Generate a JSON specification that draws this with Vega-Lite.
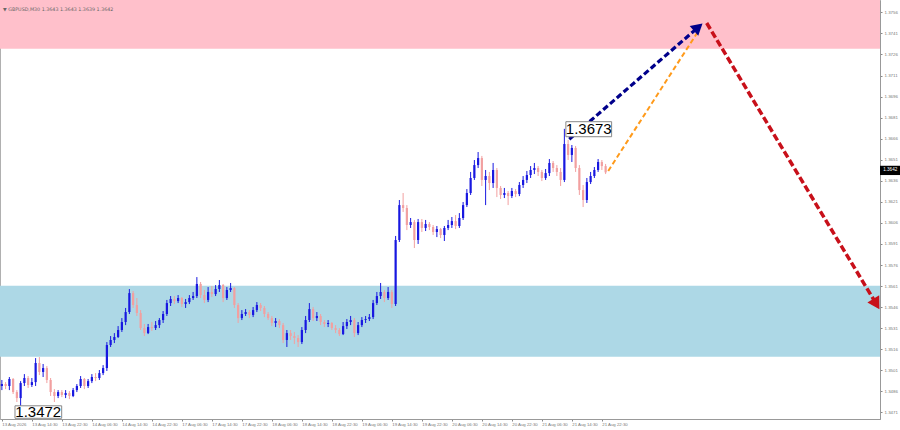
{
  "$schema": "https://vega.github.io/schema/vega-lite/v6.json",
  "description": "GBPUSD M30 wave forecast chart with sell and buy zones",
  "width": 880,
  "height": 419,
  "autosize": {"type": "none"},
  "padding": {"left": 0, "top": 0, "right": 20, "bottom": 11},
  "background": "white",
  "view": {"stroke": "#b0b0b0", "strokeWidth": 1},
  "config": {
    "scale": {"continuousPadding": 0},
    "axis": {"labelOverlap": false, "labelFlush": false, "grid": false, "title": null},
    "axisY": {"labelOverlap": false}
  },
  "datasets": {
    "zones": [
      {"zone": "sell", "x1": -0.5, "x2": 234.17, "p1": 1.3730, "p2": 1.37648},
      {"zone": "buy", "x1": -0.5, "x2": 234.17, "p1": 1.35106, "p2": 1.35612}
    ],
    "candles": [
      {"i":0,"o":1.34898,"h":1.34941,"l":1.34869,"c":1.34912},
      {"i":1,"o":1.34912,"h":1.34926,"l":1.34876,"c":1.34898},
      {"i":2,"o":1.34898,"h":1.34962,"l":1.34869,"c":1.34948},
      {"i":3,"o":1.34948,"h":1.34955,"l":1.34841,"c":1.34855},
      {"i":4,"o":1.34855,"h":1.34869,"l":1.34784,"c":1.34812},
      {"i":5,"o":1.34812,"h":1.34933,"l":1.34721,"c":1.34919},
      {"i":6,"o":1.34919,"h":1.34983,"l":1.34898,"c":1.34955},
      {"i":7,"o":1.34955,"h":1.34969,"l":1.34884,"c":1.34905},
      {"i":8,"o":1.34905,"h":1.34955,"l":1.34891,"c":1.34926},
      {"i":9,"o":1.34926,"h":1.35097,"l":1.34898,"c":1.35062},
      {"i":10,"o":1.35062,"h":1.35104,"l":1.34976,"c":1.34998},
      {"i":11,"o":1.34998,"h":1.35055,"l":1.34962,"c":1.35026},
      {"i":12,"o":1.35026,"h":1.35040,"l":1.34919,"c":1.34941},
      {"i":13,"o":1.34941,"h":1.34955,"l":1.34827,"c":1.34855},
      {"i":14,"o":1.34855,"h":1.34876,"l":1.34784,"c":1.34827},
      {"i":15,"o":1.34827,"h":1.34869,"l":1.34812,"c":1.34855},
      {"i":16,"o":1.34855,"h":1.34869,"l":1.34819,"c":1.34834},
      {"i":17,"o":1.34834,"h":1.34869,"l":1.34812,"c":1.34848},
      {"i":18,"o":1.34848,"h":1.34862,"l":1.34805,"c":1.34827},
      {"i":19,"o":1.34827,"h":1.34884,"l":1.34819,"c":1.34869},
      {"i":20,"o":1.34869,"h":1.34912,"l":1.34855,"c":1.34898},
      {"i":21,"o":1.34898,"h":1.34969,"l":1.34884,"c":1.34948},
      {"i":22,"o":1.34948,"h":1.34955,"l":1.34876,"c":1.34898},
      {"i":23,"o":1.34898,"h":1.34948,"l":1.34884,"c":1.34933},
      {"i":24,"o":1.34933,"h":1.34983,"l":1.34919,"c":1.34962},
      {"i":25,"o":1.34962,"h":1.34990,"l":1.34933,"c":1.34955},
      {"i":26,"o":1.34955,"h":1.35012,"l":1.34941,"c":1.34990},
      {"i":27,"o":1.34990,"h":1.35047,"l":1.34976,"c":1.35026},
      {"i":28,"o":1.35026,"h":1.35211,"l":1.35005,"c":1.35190},
      {"i":29,"o":1.35190,"h":1.35254,"l":1.35176,"c":1.35226},
      {"i":30,"o":1.35226,"h":1.35275,"l":1.35204,"c":1.35247},
      {"i":31,"o":1.35247,"h":1.35325,"l":1.35240,"c":1.35297},
      {"i":32,"o":1.35297,"h":1.35382,"l":1.35283,"c":1.35354},
      {"i":33,"o":1.35354,"h":1.35454,"l":1.35332,"c":1.35425},
      {"i":34,"o":1.35425,"h":1.35589,"l":1.35411,"c":1.35560},
      {"i":35,"o":1.35560,"h":1.35575,"l":1.35454,"c":1.35475},
      {"i":36,"o":1.35475,"h":1.35525,"l":1.35397,"c":1.35418},
      {"i":37,"o":1.35418,"h":1.35439,"l":1.35297,"c":1.35311},
      {"i":38,"o":1.35311,"h":1.35340,"l":1.35254,"c":1.35275},
      {"i":39,"o":1.35275,"h":1.35340,"l":1.35268,"c":1.35318},
      {"i":40,"o":1.35318,"h":1.35354,"l":1.35290,"c":1.35311},
      {"i":41,"o":1.35311,"h":1.35361,"l":1.35297,"c":1.35332},
      {"i":42,"o":1.35332,"h":1.35382,"l":1.35311,"c":1.35368},
      {"i":43,"o":1.35368,"h":1.35432,"l":1.35347,"c":1.35411},
      {"i":44,"o":1.35411,"h":1.35511,"l":1.35397,"c":1.35489},
      {"i":45,"o":1.35489,"h":1.35539,"l":1.35468,"c":1.35518},
      {"i":46,"o":1.35518,"h":1.35539,"l":1.35482,"c":1.35503},
      {"i":47,"o":1.35503,"h":1.35546,"l":1.35489,"c":1.35525},
      {"i":48,"o":1.35525,"h":1.35532,"l":1.35461,"c":1.35482},
      {"i":49,"o":1.35482,"h":1.35518,"l":1.35454,"c":1.35496},
      {"i":50,"o":1.35496,"h":1.35546,"l":1.35482,"c":1.35525},
      {"i":51,"o":1.35525,"h":1.35568,"l":1.35511,"c":1.35539},
      {"i":52,"o":1.35539,"h":1.35674,"l":1.35525,"c":1.35625},
      {"i":53,"o":1.35625,"h":1.35639,"l":1.35525,"c":1.35546},
      {"i":54,"o":1.35546,"h":1.35582,"l":1.35489,"c":1.35511},
      {"i":55,"o":1.35511,"h":1.35603,"l":1.35496,"c":1.35568},
      {"i":56,"o":1.35568,"h":1.35610,"l":1.35532,"c":1.35553},
      {"i":57,"o":1.35553,"h":1.35617,"l":1.35539,"c":1.35589},
      {"i":58,"o":1.35589,"h":1.35653,"l":1.35568,"c":1.35617},
      {"i":59,"o":1.35617,"h":1.35625,"l":1.35496,"c":1.35525},
      {"i":60,"o":1.35525,"h":1.35603,"l":1.35511,"c":1.35582},
      {"i":61,"o":1.35582,"h":1.35632,"l":1.35568,"c":1.35596},
      {"i":62,"o":1.35596,"h":1.35603,"l":1.35454,"c":1.35475},
      {"i":63,"o":1.35475,"h":1.35489,"l":1.35347,"c":1.35382},
      {"i":64,"o":1.35382,"h":1.35439,"l":1.35368,"c":1.35411},
      {"i":65,"o":1.35411,"h":1.35446,"l":1.35397,"c":1.35425},
      {"i":66,"o":1.35425,"h":1.35439,"l":1.35382,"c":1.35404},
      {"i":67,"o":1.35404,"h":1.35461,"l":1.35389,"c":1.35439},
      {"i":68,"o":1.35439,"h":1.35496,"l":1.35425,"c":1.35475},
      {"i":69,"o":1.35475,"h":1.35489,"l":1.35432,"c":1.35454},
      {"i":70,"o":1.35454,"h":1.35468,"l":1.35389,"c":1.35411},
      {"i":71,"o":1.35411,"h":1.35425,"l":1.35368,"c":1.35382},
      {"i":72,"o":1.35382,"h":1.35397,"l":1.35325,"c":1.35347},
      {"i":73,"o":1.35347,"h":1.35382,"l":1.35318,"c":1.35361},
      {"i":74,"o":1.35361,"h":1.35375,"l":1.35311,"c":1.35332},
      {"i":75,"o":1.35332,"h":1.35347,"l":1.35204,"c":1.35226},
      {"i":76,"o":1.35226,"h":1.35297,"l":1.35176,"c":1.35275},
      {"i":77,"o":1.35275,"h":1.35297,"l":1.35226,"c":1.35254},
      {"i":78,"o":1.35254,"h":1.35283,"l":1.35197,"c":1.35240},
      {"i":79,"o":1.35240,"h":1.35261,"l":1.35176,"c":1.35211},
      {"i":80,"o":1.35211,"h":1.35318,"l":1.35197,"c":1.35297},
      {"i":81,"o":1.35297,"h":1.35397,"l":1.35275,"c":1.35368},
      {"i":82,"o":1.35368,"h":1.35489,"l":1.35354,"c":1.35446},
      {"i":83,"o":1.35446,"h":1.35461,"l":1.35361,"c":1.35382},
      {"i":84,"o":1.35382,"h":1.35425,"l":1.35361,"c":1.35397},
      {"i":85,"o":1.35397,"h":1.35411,"l":1.35332,"c":1.35354},
      {"i":86,"o":1.35354,"h":1.35368,"l":1.35318,"c":1.35340},
      {"i":87,"o":1.35340,"h":1.35368,"l":1.35318,"c":1.35347},
      {"i":88,"o":1.35347,"h":1.35354,"l":1.35297,"c":1.35311},
      {"i":89,"o":1.35311,"h":1.35332,"l":1.35275,"c":1.35297},
      {"i":90,"o":1.35297,"h":1.35311,"l":1.35254,"c":1.35268},
      {"i":91,"o":1.35268,"h":1.35354,"l":1.35261,"c":1.35325},
      {"i":92,"o":1.35325,"h":1.35375,"l":1.35304,"c":1.35354},
      {"i":93,"o":1.35354,"h":1.35397,"l":1.35332,"c":1.35368},
      {"i":94,"o":1.35368,"h":1.35382,"l":1.35247,"c":1.35275},
      {"i":95,"o":1.35275,"h":1.35354,"l":1.35261,"c":1.35332},
      {"i":96,"o":1.35332,"h":1.35389,"l":1.35318,"c":1.35368},
      {"i":97,"o":1.35368,"h":1.35397,"l":1.35347,"c":1.35375},
      {"i":98,"o":1.35375,"h":1.35411,"l":1.35361,"c":1.35389},
      {"i":99,"o":1.35389,"h":1.35511,"l":1.35375,"c":1.35489},
      {"i":100,"o":1.35489,"h":1.35568,"l":1.35475,"c":1.35539},
      {"i":101,"o":1.35539,"h":1.35632,"l":1.35518,"c":1.35568},
      {"i":102,"o":1.35568,"h":1.35582,"l":1.35496,"c":1.35525},
      {"i":103,"o":1.35525,"h":1.35603,"l":1.35511,"c":1.35568},
      {"i":104,"o":1.35568,"h":1.35582,"l":1.35454,"c":1.35482},
      {"i":105,"o":1.35482,"h":1.35967,"l":1.35468,"c":1.35938},
      {"i":106,"o":1.35938,"h":1.36223,"l":1.35924,"c":1.36187},
      {"i":107,"o":1.36187,"h":1.36273,"l":1.36138,"c":1.36166},
      {"i":108,"o":1.36166,"h":1.36187,"l":1.36009,"c":1.36045},
      {"i":109,"o":1.36045,"h":1.36095,"l":1.36024,"c":1.36066},
      {"i":110,"o":1.36066,"h":1.36081,"l":1.35881,"c":1.35938},
      {"i":111,"o":1.35938,"h":1.36088,"l":1.35910,"c":1.36066},
      {"i":112,"o":1.36066,"h":1.36088,"l":1.35995,"c":1.36024},
      {"i":113,"o":1.36024,"h":1.36081,"l":1.36002,"c":1.36052},
      {"i":114,"o":1.36052,"h":1.36066,"l":1.36009,"c":1.36031},
      {"i":115,"o":1.36031,"h":1.36045,"l":1.35974,"c":1.35995},
      {"i":116,"o":1.35995,"h":1.36038,"l":1.35959,"c":1.36016},
      {"i":117,"o":1.36016,"h":1.36024,"l":1.35952,"c":1.35974},
      {"i":118,"o":1.35974,"h":1.36038,"l":1.35931,"c":1.36024},
      {"i":119,"o":1.36024,"h":1.36081,"l":1.36009,"c":1.36045},
      {"i":120,"o":1.36045,"h":1.36102,"l":1.36024,"c":1.36073},
      {"i":121,"o":1.36073,"h":1.36116,"l":1.36016,"c":1.36038},
      {"i":122,"o":1.36038,"h":1.36130,"l":1.36024,"c":1.36095},
      {"i":123,"o":1.36095,"h":1.36209,"l":1.36081,"c":1.36187},
      {"i":124,"o":1.36187,"h":1.36301,"l":1.36173,"c":1.36273},
      {"i":125,"o":1.36273,"h":1.36423,"l":1.36259,"c":1.36380},
      {"i":126,"o":1.36380,"h":1.36508,"l":1.36366,"c":1.36472},
      {"i":127,"o":1.36472,"h":1.36565,"l":1.36451,"c":1.36522},
      {"i":128,"o":1.36522,"h":1.36537,"l":1.36323,"c":1.36366},
      {"i":129,"o":1.36366,"h":1.36437,"l":1.36187,"c":1.36394},
      {"i":130,"o":1.36394,"h":1.36423,"l":1.36294,"c":1.36344},
      {"i":131,"o":1.36344,"h":1.36487,"l":1.36309,"c":1.36437},
      {"i":132,"o":1.36437,"h":1.36451,"l":1.36244,"c":1.36309},
      {"i":133,"o":1.36309,"h":1.36323,"l":1.36230,"c":1.36259},
      {"i":134,"o":1.36259,"h":1.36309,"l":1.36237,"c":1.36273},
      {"i":135,"o":1.36273,"h":1.36287,"l":1.36187,"c":1.36251},
      {"i":136,"o":1.36251,"h":1.36309,"l":1.36237,"c":1.36287},
      {"i":137,"o":1.36287,"h":1.36301,"l":1.36244,"c":1.36266},
      {"i":138,"o":1.36266,"h":1.36351,"l":1.36251,"c":1.36330},
      {"i":139,"o":1.36330,"h":1.36394,"l":1.36309,"c":1.36366},
      {"i":140,"o":1.36366,"h":1.36430,"l":1.36344,"c":1.36401},
      {"i":141,"o":1.36401,"h":1.36465,"l":1.36380,"c":1.36437},
      {"i":142,"o":1.36437,"h":1.36487,"l":1.36408,"c":1.36451},
      {"i":143,"o":1.36451,"h":1.36465,"l":1.36394,"c":1.36423},
      {"i":144,"o":1.36423,"h":1.36437,"l":1.36358,"c":1.36380},
      {"i":145,"o":1.36380,"h":1.36444,"l":1.36366,"c":1.36415},
      {"i":146,"o":1.36415,"h":1.36515,"l":1.36394,"c":1.36487},
      {"i":147,"o":1.36487,"h":1.36501,"l":1.36423,"c":1.36451},
      {"i":148,"o":1.36451,"h":1.36472,"l":1.36394,"c":1.36423},
      {"i":149,"o":1.36423,"h":1.36451,"l":1.36323,"c":1.36366},
      {"i":150,"o":1.36366,"h":1.36730,"l":1.36351,"c":1.36622},
      {"i":151,"o":1.36622,"h":1.36651,"l":1.36508,"c":1.36544},
      {"i":152,"o":1.36544,"h":1.36615,"l":1.36494,"c":1.36594},
      {"i":153,"o":1.36594,"h":1.36608,"l":1.36423,"c":1.36451},
      {"i":154,"o":1.36451,"h":1.36472,"l":1.36259,"c":1.36294},
      {"i":155,"o":1.36294,"h":1.36330,"l":1.36173,"c":1.36223},
      {"i":156,"o":1.36223,"h":1.36380,"l":1.36202,"c":1.36351},
      {"i":157,"o":1.36351,"h":1.36423,"l":1.36337,"c":1.36394},
      {"i":158,"o":1.36394,"h":1.36458,"l":1.36380,"c":1.36437},
      {"i":159,"o":1.36437,"h":1.36515,"l":1.36423,"c":1.36494},
      {"i":160,"o":1.36494,"h":1.36508,"l":1.36437,"c":1.36465},
      {"i":161,"o":1.36465,"h":1.36480,"l":1.36408,"c":1.36420}
    ],
    "navy": [{"i": 151.3, "p": 1.36656}, {"i": 185.7, "p": 1.37454}],
    "orange": [{"i": 161.7, "p": 1.36430}, {"i": 185.9, "p": 1.37434}],
    "red": [{"i": 187.95, "p": 1.37484}, {"i": 233.2, "p": 1.35482}],
    "labels": [
      {"text": "1.3673", "i": 156.5, "p": 1.36729, "x1": 150.4, "x2": 162.6, "p1": 1.36674, "p2": 1.36781},
      {"text": "1.3472", "i": 9.7, "p": 1.34712, "x1": 3.5, "x2": 15.95, "p1": 1.34668, "p2": 1.34757}
    ],
    "price": [{"text": "1.3642", "i": 236.9, "p": 1.36434, "x1": 234.17, "x2": 239.5, "p1": 1.36401, "p2": 1.36467}],
    "header": [{"text": "▼ GBPUSD,M30  1.3643 1.3643 1.3639 1.3642", "i": 0.3, "p": 1.37578}]
  },
  "encoding": {
    "x": {
      "field": "i",
      "type": "quantitative",
      "scale": {"domain": [-0.5, 234.17], "nice": false, "zero": false, "padding": 0},
      "axis": {
        "title": null,
        "grid": false,
        "values": [0, 8, 16, 24, 32, 40, 48, 56, 64, 72, 80, 88, 96, 104, 112, 120, 128, 136, 144, 152, 160],
        "labelExpr": "['13 Aug 2026','13 Aug 14:30','13 Aug 22:30','14 Aug 06:30','14 Aug 14:30','14 Aug 22:30','17 Aug 06:30','17 Aug 14:30','17 Aug 22:30','18 Aug 06:30','18 Aug 14:30','18 Aug 22:30','19 Aug 06:30','19 Aug 14:30','19 Aug 22:30','20 Aug 06:30','20 Aug 14:30','20 Aug 22:30','21 Aug 06:30','21 Aug 14:30','21 Aug 22:30'][datum.value / 8]",
        "labelAlign": "left",
        "labelFlush": false,
        "labelOverlap": false,
        "labelFontSize": 4.3,
        "labelFont": "Liberation Sans",
        "labelColor": "#777777",
        "labelPadding": 1,
        "tickSize": 2,
        "tickColor": "#888888",
        "domainColor": "#999999"
      }
    },
    "y": {
      "field": "p",
      "type": "quantitative",
      "scale": {"domain": [1.34663, 1.37648], "nice": false, "zero": false, "padding": 0},
      "axis": {
        "orient": "right",
        "title": null,
        "grid": false,
        "values": [1.3471, 1.3486, 1.3501, 1.3516, 1.3531, 1.3546, 1.3561, 1.3576, 1.3591, 1.3606, 1.3621, 1.3636, 1.3651, 1.3666, 1.3681, 1.3696, 1.3711, 1.3726, 1.3741, 1.3756],
        "format": ".4f",
        "labelOverlap": false,
        "labelFontSize": 4.4,
        "labelFont": "Liberation Sans",
        "labelColor": "#777777",
        "labelPadding": 2,
        "tickSize": 2,
        "tickColor": "#888888",
        "domainColor": "#999999"
      }
    }
  },
  "layer": [
    {
      "data": {"name": "zones"},
      "mark": {"type": "rect"},
      "encoding": {
        "x": {"field": "x1", "type": "quantitative"},
        "x2": {"field": "x2"},
        "y": {"field": "p1", "type": "quantitative"},
        "y2": {"field": "p2"},
        "color": {"field": "zone", "type": "nominal", "scale": {"domain": ["sell", "buy"], "range": ["#ffc0cb", "#add8e6"]}, "legend": null}
      }
    },
    {
      "data": {"name": "candles"},
      "mark": {"type": "rule", "strokeWidth": 1},
      "encoding": {
        "y": {"field": "l", "type": "quantitative"},
        "y2": {"field": "h"},
        "color": {"condition": {"test": "datum.c < datum.o", "value": "#f2a0a0"}, "value": "#1818e0"}
      }
    },
    {
      "data": {"name": "candles"},
      "mark": {"type": "bar", "width": 2.2},
      "encoding": {
        "y": {"field": "o", "type": "quantitative"},
        "y2": {"field": "c"},
        "color": {"condition": {"test": "datum.c < datum.o", "value": "#f2a0a0"}, "value": "#1818e0"}
      }
    },
    {
      "data": {"name": "orange"},
      "mark": {"type": "line", "color": "#ff9a1a", "strokeWidth": 2, "strokeDash": [5, 3]},
      "encoding": {}
    },
    {
      "data": {"name": "navy"},
      "mark": {"type": "line", "color": "#00008b", "strokeWidth": 3.2, "strokeDash": [6, 3]},
      "encoding": {}
    },
    {
      "data": {"name": "navy"},
      "transform": [{"filter": "datum.i > 180"}],
      "mark": {"type": "point", "shape": "triangle-up", "filled": true, "color": "#00008b", "size": 170, "angle": 49, "opacity": 1},
      "encoding": {}
    },
    {
      "data": {"name": "red"},
      "mark": {"type": "line", "color": "#c8101a", "strokeWidth": 3.5, "strokeDash": [7, 3]},
      "encoding": {}
    },
    {
      "data": {"name": "red"},
      "transform": [{"filter": "datum.i > 200"}],
      "mark": {"type": "point", "shape": "triangle-up", "filled": true, "color": "#c8101a", "size": 190, "angle": 149, "opacity": 1},
      "encoding": {}
    },
    {
      "data": {"name": "labels"},
      "mark": {"type": "rect", "fill": "white", "stroke": "#888888", "strokeWidth": 1},
      "encoding": {
        "x": {"field": "x1", "type": "quantitative"},
        "x2": {"field": "x2"},
        "y": {"field": "p1", "type": "quantitative"},
        "y2": {"field": "p2"}
      }
    },
    {
      "data": {"name": "labels"},
      "mark": {"type": "text", "font": "Liberation Sans", "fontSize": 15, "color": "black", "align": "center", "baseline": "middle"},
      "encoding": {"text": {"field": "text"}}
    },
    {
      "data": {"name": "price"},
      "mark": {"type": "rect", "fill": "black"},
      "encoding": {
        "x": {"field": "x1", "type": "quantitative"},
        "x2": {"field": "x2"},
        "y": {"field": "p1", "type": "quantitative"},
        "y2": {"field": "p2"}
      }
    },
    {
      "data": {"name": "price"},
      "mark": {"type": "text", "font": "Liberation Sans", "fontSize": 4.6, "color": "white", "align": "center", "baseline": "middle"},
      "encoding": {"text": {"field": "text"}}
    },
    {
      "data": {"name": "header"},
      "mark": {"type": "text", "font": "DejaVu Sans", "fontSize": 4.8, "color": "#666666", "align": "left", "baseline": "middle"},
      "encoding": {"text": {"field": "text"}}
    }
  ]
}
